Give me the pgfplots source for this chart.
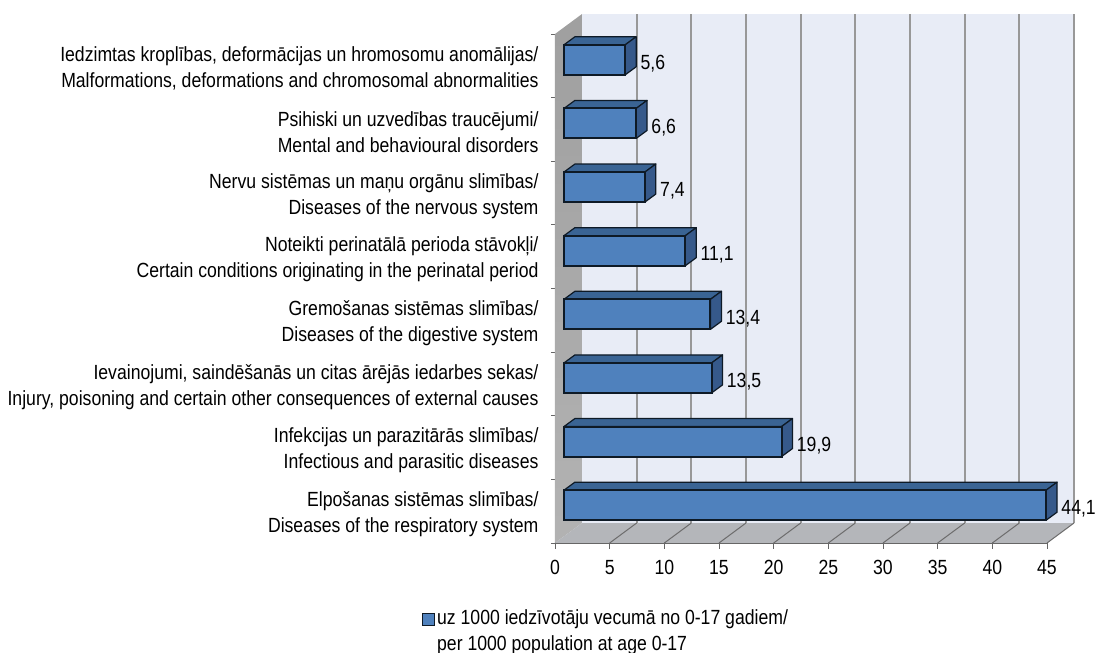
\documentclass[border=0pt]{standalone}
\usepackage{fontspec}
\setmainfont{Liberation Sans}[FakeStretch=0.86]
\usepackage{pgfplots}
\pgfplotsset{compat=1.18}

\definecolor{wall}{HTML}{E8ECF6}
\definecolor{floorc}{HTML}{B4B6BA}
\definecolor{gridc}{HTML}{989898}
\definecolor{barfront}{HTML}{4F81BD}
\definecolor{bartop}{HTML}{3A6494}
\definecolor{barside}{HTML}{36598A}
\definecolor{edge}{HTML}{0E1A26}

% side and top of one bar: value, slot centre
\newcommand{\depthfaces}[2]{%
  \pgfmathsetmacro\xe{#1+1.0}
  \pgfmathsetmacro\yl{#2-0.236}
  \pgfmathsetmacro\yh{#2+0.236}
  \pgfmathsetmacro\yle{\yl+0.126}
  \pgfmathsetmacro\yhe{\yh+0.126}
  \edef\tmp{%
    \noexpand\addplot[forget plot,fill=bartop,draw=edge,line width=1.2pt,line join=round,xshift=9pt,yshift=6pt]
      coordinates {(0,\yh) (#1,\yh) (\xe,\yhe) (1.0,\yhe)} -- cycle;
    \noexpand\addplot[forget plot,fill=barside,draw=edge,line width=1.2pt,line join=round,xshift=9pt,yshift=6pt]
      coordinates {(#1,\yl) (\xe,\yle) (\xe,\yhe) (#1,\yh)} -- cycle;
  }\tmp
}

\begin{document}
\begin{tikzpicture}[x=1pt,y=1pt]
\path[use as bounding box] (-555,-110) rectangle (541,543);
\begin{axis}[
    scale only axis,
    width=492pt,
    height=509pt,
    at={(0,0)},
    anchor=south west,
    clip=false,
    unbounded coords=jump,
    xmin=0, xmax=45,
    ymin=0, ymax=8,
    axis lines*=left,
    axis line style={draw=gray!80!black,-,line width=0.8pt},
    tick style={draw=gray!80!black,line width=0.8pt},
    xtick={0,5,...,45},
    ytick={0.5,1.5,...,7.5},
    minor ytick={0,1,...,8},
    major tick length=6pt,
    minor tick length=4pt,
    major y tick style={draw=none},
    tick align=outside,
    /pgf/number format/assume math mode=true,
    tick label style={font=\fontsize{20.5}{26}\selectfont},
    yticklabel style={align=right,xshift=-7pt,yshift=-3pt},
    xticklabel style={yshift=-8pt},
    yticklabels={
      {Elpošanas sistēmas slimības/\\Diseases of the respiratory system},
      {Infekcijas un parazitārās slimības/\\Infectious and parasitic diseases},
      {Ievainojumi, saindēšanās un citas ārējās iedarbes sekas/\\Injury, poisoning and certain other consequences of external causes},
      {Gremošanas sistēmas slimības/\\Diseases of the digestive system},
      {Noteikti perinatālā perioda stāvokļi/\\Certain conditions originating in the perinatal period},
      {Nervu sistēmas un maņu orgānu slimības/\\Diseases of the nervous system},
      {Psihiski un uzvedības traucējumi/\\Mental and behavioural disorders},
      {Iedzimtas kroplības, deformācijas un hromosomu anomālijas/\\Malformations, deformations and chromosomal abnormalities}
    },
    legend style={
      at={(-0.270,-0.126)},anchor=north west,draw=none,fill=none,
      font=\fontsize{20.5}{26}\selectfont,
      cells={align=left},inner sep=0pt
    },
  ]
  % walls and floor
  \addplot[forget plot,fill=wall,draw=none] coordinates {(2.47,0.314) (47.47,0.314) (47.47,8.314) (2.47,8.314)} -- cycle;
  \addplot[forget plot,top color=gray!75,bottom color=gray!60,draw=none] coordinates {(0,0) (2.47,0.314) (2.47,8.314) (0,8)} -- cycle;
  \addplot[forget plot,fill=floorc,draw=none] coordinates {(0,0) (45,0) (47.47,0.314) (2.47,0.314)} -- cycle;
  % grid on the back wall and the floor
  \addplot[forget plot,draw=gridc,line width=1.8pt] coordinates {
    (7.47,0.314) (7.47,8.314) (nan,nan)
    (12.47,0.314) (12.47,8.314) (nan,nan)
    (17.47,0.314) (17.47,8.314) (nan,nan)
    (22.47,0.314) (22.47,8.314) (nan,nan)
    (27.47,0.314) (27.47,8.314) (nan,nan)
    (32.47,0.314) (32.47,8.314) (nan,nan)
    (37.47,0.314) (37.47,8.314) (nan,nan)
    (42.47,0.314) (42.47,8.314) (nan,nan)
    (47.47,0.314) (47.47,8.314)
  };
  \addplot[forget plot,draw=gray!85!black,line width=1pt] coordinates {
    (5,0) (7.47,0.314) (nan,nan)
    (10,0) (12.47,0.314) (nan,nan)
    (15,0) (17.47,0.314) (nan,nan)
    (20,0) (22.47,0.314) (nan,nan)
    (25,0) (27.47,0.314) (nan,nan)
    (30,0) (32.47,0.314) (nan,nan)
    (35,0) (37.47,0.314) (nan,nan)
    (40,0) (42.47,0.314) (nan,nan)
    (45,0) (47.47,0.314)
  };
  % bars
  \depthfaces{44.1}{0.5}
  \depthfaces{19.9}{1.5}
  \depthfaces{13.5}{2.5}
  \depthfaces{13.4}{3.5}
  \depthfaces{11.1}{4.5}
  \depthfaces{7.4}{5.5}
  \depthfaces{6.6}{6.5}
  \depthfaces{5.6}{7.5}
  \addplot[
    xbar,bar shift=0pt,bar width=30pt,
    xshift=9pt,yshift=6pt,
    fill=barfront,draw=edge,line width=2pt,
    point meta=x,
    nodes near coords,
    nodes near coords align={horizontal},
    every node near coord/.append style={
      font=\fontsize{20.5}{24}\selectfont,text=black,xshift=11pt,yshift=-4pt,
      /pgf/number format/fixed,/pgf/number format/fixed zerofill,
      /pgf/number format/precision=1,/pgf/number format/use comma,
      /pgf/number format/assume math mode=true
    },
    legend image code/.code={\fill[barfront,draw=edge,line width=0.8pt] (-2pt,-1pt) rectangle (10pt,11pt);},
  ] coordinates {(44.1,0.5) (19.9,1.5) (13.5,2.5) (13.4,3.5) (11.1,4.5) (7.4,5.5) (6.6,6.5) (5.6,7.5)};
  \addlegendentry{uz 1000 iedzīvotāju vecumā no 0-17 gadiem/\\per 1000 population at age 0-17}
\end{axis}
\end{tikzpicture}
\end{document}
